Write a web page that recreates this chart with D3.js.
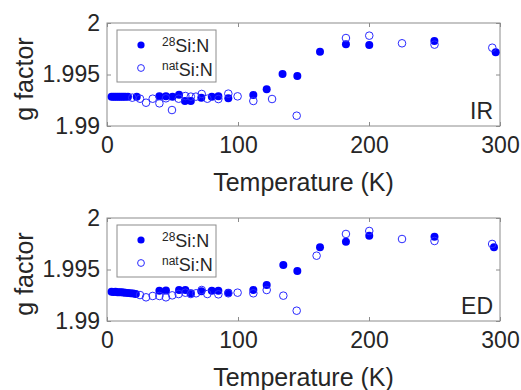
<!DOCTYPE html>
<html>
<head>
<meta charset="utf-8">
<script src="https://cdn.jsdelivr.net/npm/d3@7"></script>
<style>
  body { margin: 0; background: #fff; }
  text { font-family: "Liberation Sans", Arial, sans-serif; fill: #262626; }
</style>
</head>
<body>
<div id="chart"></div>
<script>
// temperature (K) and g factor
var irSi28T = [3.5, 5, 6.5, 8, 9.5, 11, 12.5, 14, 16, 22.7, 40, 45, 50, 55, 59.5, 64, 72, 80, 85, 92.6, 111.7, 121.9, 134, 145.3, 162.6, 182.4, 200.2, 249.9, 296.7];
var irSi28G = [1.99285, 1.99285, 1.99285, 1.99285, 1.99285, 1.99285, 1.99285, 1.99285, 1.99285, 1.99285, 1.99288, 1.99290, 1.99285, 1.99304, 1.99243, 1.99243, 1.99275, 1.99285, 1.99288, 1.99269, 1.99301, 1.99356, 1.99505, 1.99485, 1.99722, 1.99793, 1.99786, 1.99825, 1.99716];
var irNatT = [19.3, 25.2, 29.8, 34.9, 40, 45, 49.6, 54.7, 59.8, 64, 67.9, 72.3, 76.6, 85, 92.6, 99.7, 111.7, 126, 144.8, 182.4, 200.2, 225.2, 250, 294.1];
var irNatG = [1.99275, 1.99265, 1.99226, 1.99265, 1.99220, 1.99269, 1.99155, 1.99265, 1.99291, 1.99285, 1.99285, 1.99311, 1.99265, 1.99262, 1.99314, 1.99288, 1.99243, 1.99262, 1.99100, 1.99854, 1.99877, 1.99803, 1.99790, 1.99760];

var edSi28T = [3.5, 5, 6.5, 8, 9.5, 11, 12.5, 14, 16, 18, 20, 22, 40, 45, 55, 59.8, 64, 72, 80, 85, 92.6, 111.7, 121.9, 134.6, 145.3, 162.6, 182.4, 200.2, 250, 295.4];
var edSi28G = [1.99284, 1.99282, 1.99283, 1.99280, 1.99279, 1.99278, 1.99276, 1.99275, 1.99272, 1.99270, 1.99266, 1.99263, 1.99294, 1.99296, 1.99301, 1.99301, 1.99269, 1.99288, 1.99294, 1.99294, 1.99275, 1.99301, 1.99350, 1.99544, 1.99485, 1.99716, 1.99770, 1.99828, 1.99819, 1.99716];
var edNatT = [25.2, 29.8, 34.9, 40, 45, 49.8, 54.7, 59.8, 64, 68, 72.3, 76.6, 85, 92.6, 99.7, 111.7, 121.9, 134.6, 144.8, 160, 182.4, 200.2, 225.2, 250, 294];
var edNatG = [1.99252, 1.99230, 1.99243, 1.99243, 1.99230, 1.99249, 1.99262, 1.99275, 1.99262, 1.99269, 1.99301, 1.99262, 1.99259, 1.99269, 1.99275, 1.99269, 1.99301, 1.99246, 1.99100, 1.99634, 1.99845, 1.99874, 1.99796, 1.99777, 1.99748];

var xTicks = [0, 100, 200, 300];
var yTicks = [1.99, 1.995, 2];
var yTickLabels = ["1.99", "1.995", "2"];

var W = 521, H = 390;
var svg = d3.select("#chart").append("svg")
    .attr("width", W)
    .attr("height", H);

var x = d3.scaleLinear().domain([0, 300]).range([107, 500]);

function zip(ts, gs) {
    return ts.map(function(t, i) { return [t, gs[i]]; });
}

function panel(top, tag, filled, open) {
    var y = d3.scaleLinear().domain([1.99, 2]).range([top + 103, top]);
    var g = svg.append("g");

    // box
    g.append("rect")
        .attr("x", x(0)).attr("y", y(2))
        .attr("width", x(300) - x(0)).attr("height", y(1.99) - y(2))
        .style("fill", "none").style("stroke", "#8c8c8c").style("stroke-width", 1);

    var gx = g.append("g")
        .attr("transform", "translate(0," + y(1.99) + ")")
        .call(d3.axisBottom(x).tickValues(xTicks).tickSize(-4).tickPadding(11));
    g.append("g")
        .attr("transform", "translate(0," + y(2) + ")")
        .call(d3.axisTop(x).tickValues(xTicks).tickSize(-4).tickFormat(""));
    var gy = g.append("g")
        .attr("transform", "translate(" + x(0) + ",0)")
        .call(d3.axisLeft(y).tickValues(yTicks).tickSize(-4).tickPadding(7)
            .tickFormat(function(d, i) { return yTickLabels[i]; }));
    g.append("g")
        .attr("transform", "translate(" + x(300) + ",0)")
        .call(d3.axisRight(y).tickValues(yTicks).tickSize(-4).tickFormat(""));

    g.selectAll(".domain").remove();
    g.selectAll(".tick line").style("stroke", "#8c8c8c");
    g.selectAll(".tick text")
        .style("font-family", "'Liberation Sans', Arial, sans-serif")
        .style("font-size", "23px")
        .style("fill", "#262626");
    gx.selectAll(".tick text").attr("dy", "0.68em");

    // markers
    g.append("g").selectAll("circle")
        .data(zip(filled[0], filled[1]))
        .enter().append("circle")
        .attr("cx", function(d) { return x(d[0]); })
        .attr("cy", function(d) { return y(d[1]); })
        .attr("r", 4)
        .style("fill", "#0000ff");
    g.append("g").selectAll("circle")
        .data(zip(open[0], open[1]))
        .enter().append("circle")
        .attr("cx", function(d) { return x(d[0]); })
        .attr("cy", function(d) { return y(d[1]); })
        .attr("r", 3.8)
        .style("fill", "none")
        .style("stroke", "#2a2aff")
        .style("stroke-width", 1);

    // labels
    g.append("text")
        .attr("x", x(150)).attr("y", top + 168)
        .attr("text-anchor", "middle")
        .style("font-size", "25px")
        .text("Temperature (K)");
    g.append("text")
        .attr("transform", "translate(33," + (top + 56) + ") rotate(-90)")
        .attr("text-anchor", "middle")
        .style("font-size", "25px")
        .text("g factor");
    g.append("text")
        .attr("x", 493).attr("y", top + 96)
        .attr("text-anchor", "end")
        .style("font-size", "23px")
        .text(tag);

    // legend
    var lg = g.append("g").attr("transform", "translate(117," + (top + 7) + ")");
    lg.append("rect")
        .attr("width", 99).attr("height", 52)
        .style("fill", "#fff").style("stroke", "#8c8c8c").style("stroke-width", 1);
    lg.append("circle").attr("cx", 24).attr("cy", 15).attr("r", 3.6).style("fill", "#0000ff");
    lg.append("circle").attr("cx", 24).attr("cy", 38).attr("r", 3.4)
        .style("fill", "none").style("stroke", "#2a2aff").style("stroke-width", 1);
    var t1 = lg.append("text").attr("x", 45).attr("y", 22).style("font-size", "18px");
    t1.append("tspan").attr("dy", "-6").style("font-size", "12px").text("28");
    t1.append("tspan").attr("dy", "6").text("Si:N");
    var t2 = lg.append("text").attr("x", 45).attr("y", 46).style("font-size", "18px");
    t2.append("tspan").attr("dy", "-6").style("font-size", "12px").text("nat");
    t2.append("tspan").attr("dy", "6").text("Si:N");
}

panel(23, "IR", [irSi28T, irSi28G], [irNatT, irNatG]);
panel(218, "ED", [edSi28T, edSi28G], [edNatT, edNatG]);
</script>
</body>
</html>
